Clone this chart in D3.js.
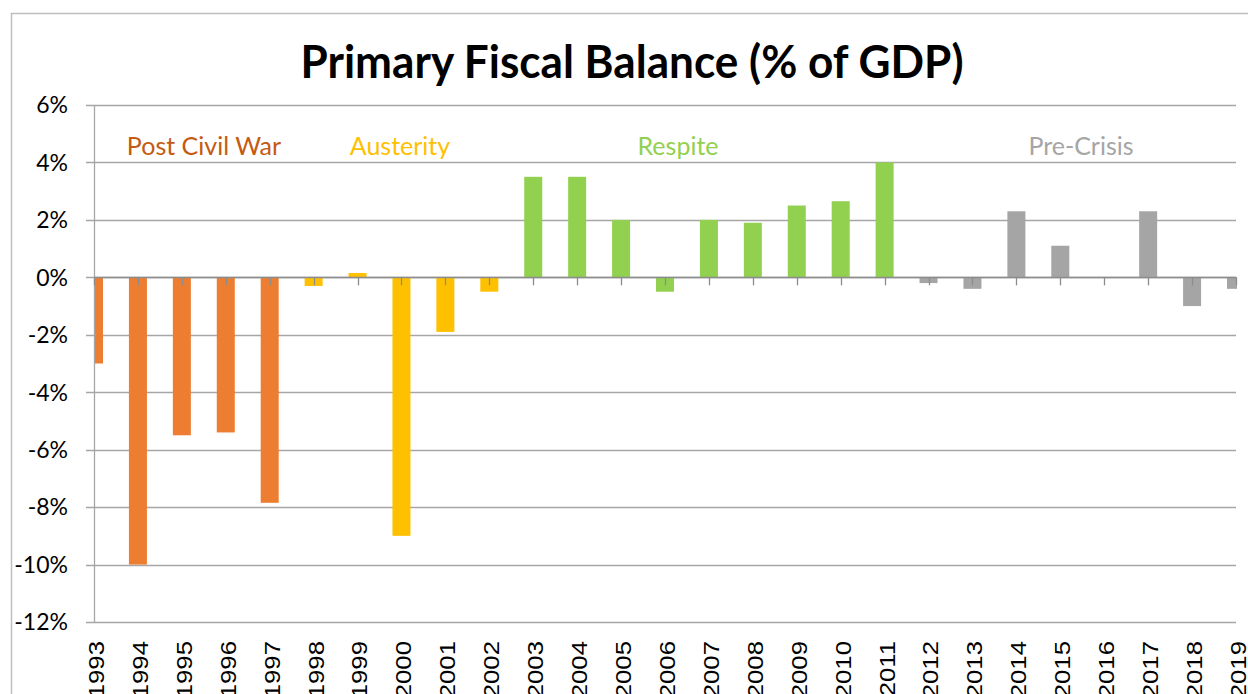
<!DOCTYPE html>
<html>
<head>
<meta charset="utf-8">
<script src="https://cdn.jsdelivr.net/npm/d3@7"></script>
<style>
  html, body { margin: 0; padding: 0; background: #fff; }
  svg { display: block; }
</style>
</head>
<body>
<svg id="chart" width="1248" height="694"></svg>
<script>
// Primary fiscal balance, % of GDP, by year
const years = [1993, 1994, 1995, 1996, 1997, 1998, 1999, 2000, 2001, 2002,
               2003, 2004, 2005, 2006, 2007, 2008, 2009, 2010, 2011, 2012,
               2013, 2014, 2015, 2016, 2017, 2018, 2019];
const balance = [-3.0, -10.0, -5.5, -5.4, -7.85, -0.3, 0.15, -9.0, -1.9, -0.5,
                 3.5, 3.5, 2.0, -0.5, 2.0, 1.9, 2.5, 2.65, 4.0, -0.2,
                 -0.4, 2.3, 1.1, 0.0, 2.3, -1.0, -0.4];

// Policy periods
const periodNames = ["Post Civil War", "Austerity", "Respite", "Pre-Crisis"];
const periodStart = [1993, 1998, 2003, 2012];
const periodEnd   = [1997, 2002, 2011, 2019];

const yTicks = [6, 4, 2, 0, -2, -4, -6, -8, -10, -12];

// Styling
const barColors   = ["#ED7D31", "#FFC000", "#92D050", "#A5A5A5"];
const labelColors = ["#C55A11", "#FFC000", "#92D050", "#A5A5A5"];
const labelX      = [204, 400, 678, 1081];

const svg = d3.select("#chart");
const W = 1248, H = 694;
const plotL = 94, plotR = 1236, plotT = 105, plotB = 622;

// Outer frame
svg.append("path")
  .attr("d", `M11.5,${H} V13.5 H${W}`)
  .attr("fill", "none")
  .attr("stroke", "#BFBFBF")
  .attr("stroke-width", 1.5);

const x = d3.scalePoint().domain(years).range([plotL, plotR]);
const y = d3.scaleLinear().domain([-12, 6]).range([plotB, plotT]);

const periodOf = yr => periodStart.findIndex((s, i) => yr >= s && yr <= periodEnd[i]);

// Horizontal gridlines with short left ticks
svg.append("g")
  .selectAll("line")
  .data(yTicks)
  .join("line")
  .attr("x1", plotL - 8)
  .attr("x2", plotR)
  .attr("y1", d => Math.round(y(d)) + 0.5)
  .attr("y2", d => Math.round(y(d)) + 0.5)
  .attr("stroke", "#A6A6A6")
  .attr("stroke-width", 1.3);

// Y axis labels
svg.append("g")
  .selectAll("text")
  .data(yTicks)
  .join("text")
  .attr("x", 68)
  .attr("y", d => y(d))
  .attr("dy", "0.36em")
  .attr("text-anchor", "end")
  .attr("font-family", "Lato, 'Open Sans', sans-serif")
  .attr("font-size", 23)
  .attr("fill", "#000")
  .text(d => d + "%");

// Bars, clipped to the plot area
svg.append("clipPath").attr("id", "plotClip")
  .append("rect")
  .attr("x", plotL).attr("y", 0)
  .attr("width", plotR - plotL + 1).attr("height", H);

const barW = 18;
svg.append("g")
  .attr("clip-path", "url(#plotClip)")
  .selectAll("rect")
  .data(years.map((yr, i) => ({ yr, v: balance[i] })))
  .join("rect")
  .attr("x", d => x(d.yr) - barW / 2)
  .attr("y", d => y(Math.max(0, d.v)))
  .attr("width", barW)
  .attr("height", d => Math.abs(y(d.v) - y(0)))
  .attr("fill", d => barColors[periodOf(d.yr)]);

// Vertical axis line
svg.append("line")
  .attr("x1", plotL + 0.5).attr("x2", plotL + 0.5)
  .attr("y1", plotT).attr("y2", plotB)
  .attr("stroke", "#A6A6A6")
  .attr("stroke-width", 1.3);

// Zero line with category ticks
svg.append("line")
  .attr("x1", plotL).attr("x2", plotR)
  .attr("y1", Math.round(y(0)) + 0.5).attr("y2", Math.round(y(0)) + 0.5)
  .attr("stroke", "#8C8C8C")
  .attr("stroke-width", 1.5);

svg.append("g")
  .selectAll("line")
  .data(years)
  .join("line")
  .attr("x1", d => Math.round(x(d)) + 0.5)
  .attr("x2", d => Math.round(x(d)) + 0.5)
  .attr("y1", y(0))
  .attr("y2", y(0) + 8)
  .attr("stroke", "#8C8C8C")
  .attr("stroke-width", 1.3);

// Year labels, rotated and stretched slightly along the reading direction
svg.append("g")
  .selectAll("text")
  .data(years)
  .join("text")
  .attr("transform", d => `translate(${x(d)},641) rotate(-90) scale(1.12,1)`)
  .attr("dy", "0.43em")
  .attr("text-anchor", "end")
  .attr("font-family", "'Liberation Sans', Arial, sans-serif")
  .attr("font-size", 23)
  .attr("fill", "#000")
  .text(d => d);

// Period labels
svg.append("g")
  .selectAll("text")
  .data(periodNames)
  .join("text")
  .attr("x", (d, i) => labelX[i])
  .attr("y", 155)
  .attr("text-anchor", "middle")
  .attr("font-family", "Lato, 'Open Sans', sans-serif")
  .attr("font-size", 25)
  .attr("fill", (d, i) => labelColors[i])
  .text(d => d);

// Title
svg.append("text")
  .attr("x", 632)
  .attr("y", 78)
  .attr("text-anchor", "middle")
  .attr("font-family", "Lato, 'Open Sans', sans-serif")
  .attr("font-weight", "bold")
  .attr("font-size", 46)
  .attr("textLength", 663)
  .attr("lengthAdjust", "spacingAndGlyphs")
  .attr("fill", "#000")
  .text("Primary Fiscal Balance (% of GDP)");
</script>
</body>
</html>
